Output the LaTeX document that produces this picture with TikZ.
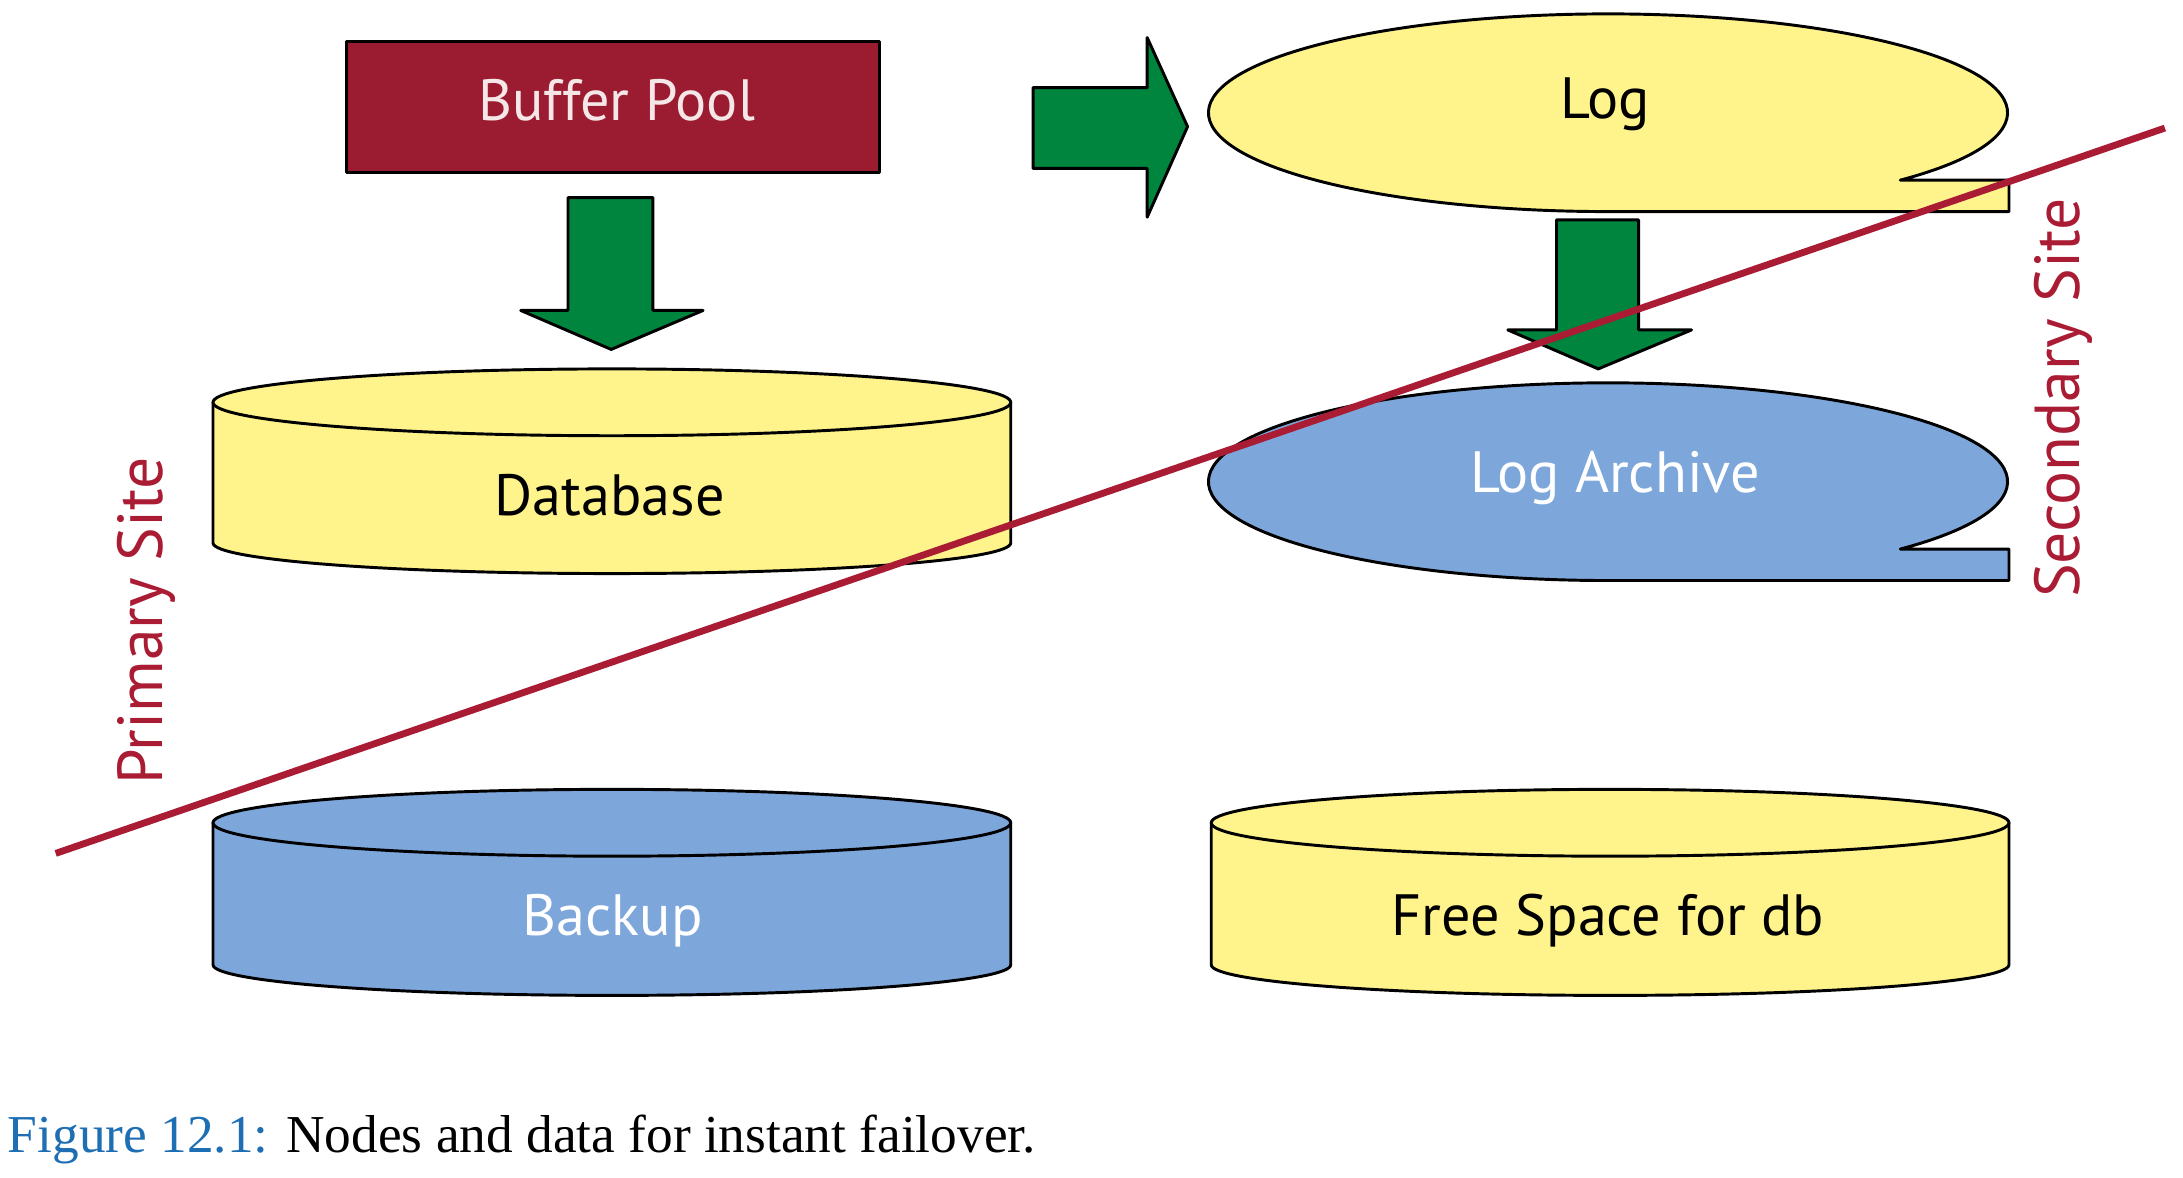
\documentclass[tikz,border=0pt]{standalone}
\usepackage{fontspec}
\newfontfamily\labfont{PT Sans}
\newfontfamily\capfont{Liberation Serif}
\definecolor{cyl}{RGB}{255,243,140}
\definecolor{blu}{RGB}{125,166,218}
\definecolor{grn}{RGB}{0,133,62}
\definecolor{bpred}{RGB}{155,27,48}
\definecolor{lnred}{RGB}{170,28,52}
\definecolor{capblue}{RGB}{30,110,180}
\newcommand{\mycylinder}[5]{% cx, a, topY, botY, fill
  \path[outl,fill=#5] (#1-#2,#3) -- (#1-#2,#4) arc[start angle=180,end angle=360,x radius=#2,y radius=22] -- (#1+#2,#3) -- cycle;
  \path[outl,fill=#5] (#1,#3) ellipse[x radius=#2,y radius=24];
}
\begin{document}
\begin{tikzpicture}[x=0.1mm,y=0.1mm,
  outl/.style={draw=black,line width=0.6pt,line join=round},
  garrow/.style={outl,fill=grn},
  lab/.style={font=\labfont\fontsize{11.9}{13}\selectfont,inner sep=0pt},
  sitelab/.style={font=\labfont\fontsize{13}{15}\selectfont,text=lnred,rotate=90,inner sep=0pt}]
\useasboundingbox (0,0) rectangle (1568,846);
% Buffer Pool
\node[outl,fill=bpred,minimum width=38.3mm,minimum height=9.4mm,inner sep=0pt] (bp) at (440.5,769) {};
\node[lab,text={rgb,255:red,245;green,230;blue,232}] (bpt) at (443,774) {Buffer Pool};
% arrows
\draw[garrow] (408,704) -- (469,704) -- (469,623) -- (505,623) -- (439,595) -- (374,623) -- (408,623) -- cycle;
\draw[garrow] (742,783) -- (824,783) -- (824,819) -- (853,755) -- (824,690) -- (824,725) -- (742,725) -- cycle;
\draw[garrow] (1118,688) -- (1177,688) -- (1177,609) -- (1215,609) -- (1148,581) -- (1083,609) -- (1118,609) -- cycle;
% Log (tape shape)
\path[outl,fill=cyl] (1155,765) ++(-43:287 and 71) coordinate (lgs)
  arc[start angle=-43,end angle=270,x radius=287,y radius=71] -- (1443,694) |- (lgs) -- cycle;
\node[lab] (lg) at (1153,771) {Log};
% Log Archive
\path[outl,fill=blu] (1155,500) ++(-43:287 and 71) coordinate (las)
  arc[start angle=-43,end angle=270,x radius=287,y radius=71] -- (1443,429) |- (las) -- cycle;
\node[lab,text=white] (la) at (1160,503) {Log Archive};
% cylinders
\mycylinder{439.5}{286.5}{557}{456}{cyl}
\node[lab] (db) at (438,490) {Database};
\mycylinder{439.5}{286.5}{255}{153}{blu}
\node[lab,text=white] (bk) at (440,185) {Backup};
\mycylinder{1156.5}{286.5}{255}{153}{cyl}
\node[lab] (fs) at (1155,185) {Free Space for db};
% divider line
\coordinate (la1) at (40,233);
\coordinate (la2) at (1555,754);
\draw[lnred,line width=1.4pt] (la1) -- (la2);
\node[sitelab] (ps) at (105,400) {Primary Site};
\node[sitelab] (ss) at (1482,560) {Secondary Site};
% caption
\node[anchor=base west,inner sep=0pt,font=\capfont\fontsize{10.9}{13}\selectfont] (cap) at (5,18) {\textcolor{capblue}{Figure 12.1:} Nodes and data for instant failover.};
\end{tikzpicture}
\end{document}
